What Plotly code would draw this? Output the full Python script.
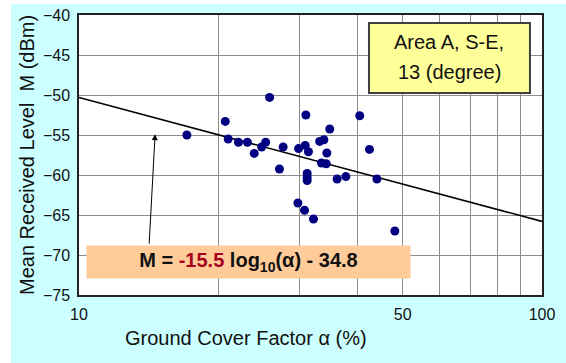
import plotly.graph_objects as go
import numpy as np

# ---- data ----
alpha = [17.1, 20.7, 21.0, 22.1, 23.1, 23.9, 25.8, 24.8, 25.3, 27.6, 27.1,
         29.8, 30.8, 31.3, 30.9, 31.1, 31.1, 31.1, 29.7, 30.7, 32.1,
         33.1, 33.8, 34.8, 34.3, 33.4, 34.2, 36.1, 37.7, 40.4, 42.4, 44.0, 48.1]
level = [-55.0, -53.3, -55.5, -55.9, -55.9, -57.3, -50.3, -56.5, -55.9, -56.5, -59.25,
         -56.7, -56.3, -57.1, -52.5, -59.8, -60.3, -60.7, -63.5, -64.4, -65.5,
         -55.8, -55.6, -54.25, -57.25, -58.5, -58.6, -60.5, -60.2, -52.6, -56.8, -60.5, -67.0]

fit_alpha = [10, 100]
fit_level = [-50.3, -65.8]

arrow_head = (14.6, -54.9)

x_tickvals = [10, 20, 30, 40, 50, 60, 70, 80, 90, 100]
x_ticktext = ["10", "", "", "", "50", "", "", "", "", "100"]
y_tickvals = [-40, -45, -50, -55, -60, -65, -70, -75]

FONT = "Liberation Sans, Arial, sans-serif"

fig = go.Figure()
fig.add_trace(go.Scatter(x=fit_alpha, y=fit_level, mode="lines",
                         line=dict(color="black", width=1.6), hoverinfo="skip",
                         showlegend=False))
fig.add_trace(go.Scatter(x=alpha, y=level, mode="markers",
                         marker=dict(color="#000080", size=9), showlegend=False))

fig.update_layout(
    width=566, height=363,
    margin=dict(l=79, r=24, t=15, b=68),
    paper_bgcolor="#CCFFFF", plot_bgcolor="white",
    font=dict(family=FONT, color="#111111"),
    showlegend=False,
)
fig.update_xaxes(type="log", range=[1, 2], tickvals=x_tickvals, ticktext=x_ticktext,
                 showgrid=True, gridcolor="#8c8c8c", gridwidth=1,
                 showline=True, linecolor="#222222", linewidth=1.5, mirror=True,
                 ticks="", ticklabelstandoff=4, tickfont=dict(size=16, family=FONT),
                 automargin=False, zeroline=False)
fig.update_yaxes(range=[-75, -40], tickvals=y_tickvals,
                 showgrid=True, gridcolor="#8c8c8c", gridwidth=1,
                 showline=True, linecolor="#222222", linewidth=1.5, mirror=True,
                 ticks="", ticklabelstandoff=4, tickfont=dict(size=16, family=FONT),
                 automargin=False, zeroline=False)

# axis titles
fig.add_annotation(xref="paper", yref="paper", x=(246 - 79) / 463, y=(295 - 338) / 280,
                   xanchor="center", yanchor="middle", showarrow=False,
                   text="Ground Cover Factor α (%)", font=dict(size=20, family=FONT, color="#111111"))
fig.add_annotation(xref="paper", yref="paper", x=(27 - 79) / 463, y=(295 - 155) / 280,
                   xanchor="center", yanchor="middle", showarrow=False, textangle=-90,
                   text="Mean Received Level  M (dBm)", font=dict(size=20, family=FONT, color="#111111"))

# white margin strips around the cyan panel
fig.add_shape(type="rect", xref="paper", yref="paper", x0=-0.2, x1=-0.1469, y0=-0.3, y1=1.1,
              fillcolor="white", line=dict(width=0), layer="above")
fig.add_shape(type="rect", xref="paper", yref="paper", x0=-0.2, x1=1.1, y0=1.039, y1=1.1,
              fillcolor="white", line=dict(width=0), layer="above")

# area box
fig.add_shape(type="rect", xref="paper", yref="paper", x0=0.6263, x1=0.974, y0=0.7214, y1=0.9714,
              fillcolor="#FFFF99", line=dict(color="#404040", width=2), layer="above")
fig.add_annotation(xref="paper", yref="paper", x=0.800, y=(295 - 41.7) / 280, text="Area A, S-E,",
                   xanchor="center", yanchor="middle",
                   showarrow=False, font=dict(size=20, family=FONT, color="#111111"))
fig.add_annotation(xref="paper", yref="paper", x=0.800, y=(295 - 71.7) / 280, text="13 (degree)",
                   xanchor="center", yanchor="middle",
                   showarrow=False, font=dict(size=20, family=FONT, color="#111111"))

# arrow
fig.add_annotation(x=np.log10(arrow_head[0]), y=arrow_head[1], ax=-6, ay=111,
                   text="", showarrow=True, arrowhead=2, arrowsize=1.2, arrowwidth=1,
                   arrowcolor="black")

# equation box
fig.add_annotation(xref="paper", yref="paper", x=(248.5 - 79) / 463, y=(295 - 262) / 280,
                   xanchor="center", yanchor="middle",
                   text="<b>M = <span style='color:#A50021'>-15.5</span> log<sub>10</sub>(α) - 34.8</b>",
                   showarrow=False, bgcolor="#FFCC99", width=323, height=32, borderpad=0,
                   font=dict(size=20, family=FONT, color="#111111"))

fig.write_html("out.html", config={"displayModeBar": False},
               post_script="document.body.style.margin='0';document.body.style.overflow='hidden';")
